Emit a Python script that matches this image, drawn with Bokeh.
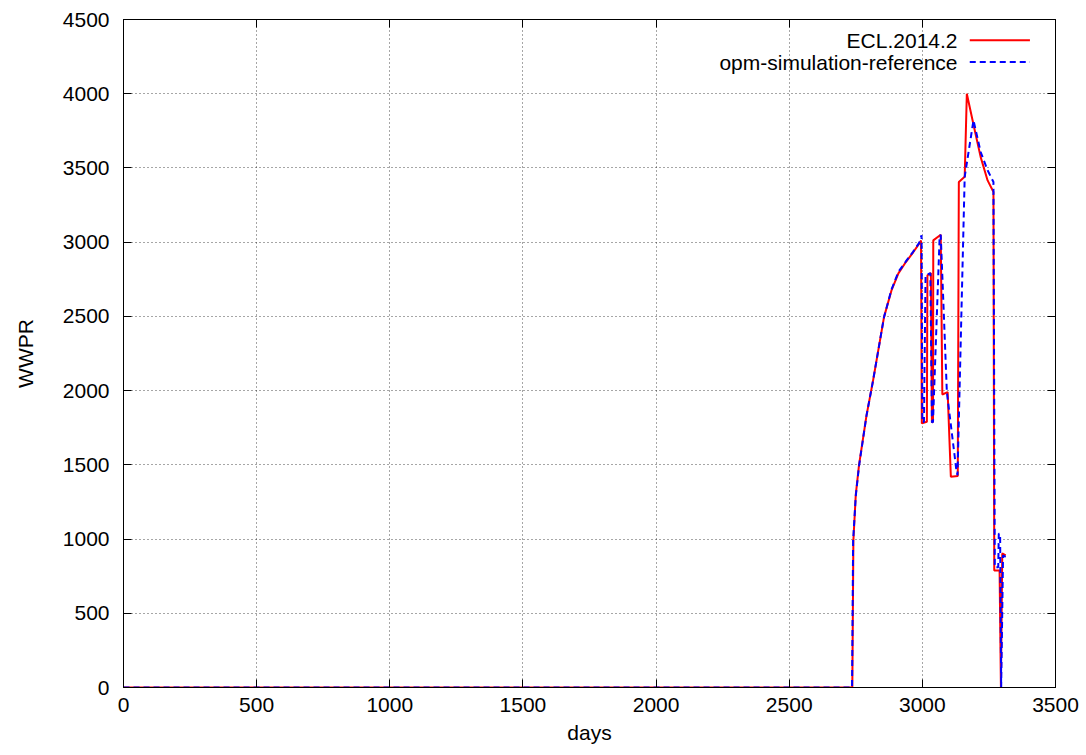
from bokeh.plotting import figure
from bokeh.embed import file_html
from bokeh.resources import INLINE
from bokeh.models import (Range1d, LinearAxis, FixedTicker, Label, Arrow,
                          CustomJSTickFormatter)

# ---- data ----
ecl_days = [0, 2737, 2741, 2750, 2762, 2790, 2815, 2856, 2884, 2910, 2938, 2965,
            2988, 2995, 2998, 3017, 3019, 3032, 3036, 3040, 3041, 3069, 3075,
            3095, 3107, 3133, 3137, 3159, 3167, 3194, 3219, 3245, 3267, 3270,
            3290, 3295, 3300, 3313]
ecl_wwpr = [0, 0, 990, 1300, 1496, 1830, 2069, 2495, 2675, 2790, 2866, 2930,
            2990, 3012, 1779, 1790, 2776, 2792, 1786, 1790, 3012, 3050, 1974,
            1990, 1420, 1425, 3405, 3440, 4000, 3776, 3573, 3416, 3338, 788,
            788, 0, 903, 890]

opm_days = [0, 2736, 2740, 2750, 2762, 2790, 2815, 2856, 2884, 2910, 2938, 2965,
            2988, 2997, 3000, 3006, 3012, 3030, 3036, 3040, 3065, 3069, 3092,
            3128, 3132, 3159, 3192, 3219, 3245, 3267, 3272, 3285, 3287, 3292,
            3296, 3303, 3313]
opm_wwpr = [0, 0, 990, 1290, 1490, 1830, 2069, 2495, 2680, 2800, 2870, 2935,
            2995, 3046, 1786, 1790, 2776, 2792, 1786, 1790, 3040, 3050, 1990,
            1460, 1430, 3440, 3821, 3607, 3484, 3405, 810, 810, 1036, 1036,
            0, 890, 880]

series_names = ["ECL.2014.2", "opm-simulation-reference"]
x_ticks = [0, 500, 1000, 1500, 2000, 2500, 3000, 3500]
y_ticks = [0, 500, 1000, 1500, 2000, 2500, 3000, 3500, 4000, 4500]

FONT = "Liberation Sans"
FS = "21px"

p = figure(width=1080, height=751, output_backend="svg", toolbar_location=None,
           x_range=Range1d(0, 3500), y_range=Range1d(0, 4500),
           min_border_left=123, min_border_right=25, min_border_top=19,
           min_border_bottom=64, background_fill_color="white",
           border_fill_color="white")

p.outline_line_color = "black"
p.outline_line_width = 1

for ax, ticks in ((p.xaxis[0], x_ticks), (p.yaxis[0], y_ticks)):
    ax.ticker = FixedTicker(ticks=ticks)
    ax.minor_tick_line_color = None
    ax.major_tick_in = 8
    ax.major_tick_out = 0
    ax.major_tick_line_color = "black"
    ax.axis_line_color = "black"
    ax.major_label_text_font = FONT
    ax.major_label_text_font_size = FS
    ax.major_label_text_color = "black"
    ax.axis_label_text_font = FONT
    ax.axis_label_text_font_size = FS
    ax.axis_label_text_font_style = "normal"
    ax.axis_label_text_color = "black"

p.xaxis[0].axis_label = "days"
p.xaxis[0].major_label_standoff = 10
p.xaxis[0].axis_label_standoff = 6
p.yaxis[0].axis_label = "WWPR"
p.yaxis[0].major_label_standoff = 14
p.yaxis[0].axis_label_standoff = 23

# mirrored ticks (gnuplot style)
blank = CustomJSTickFormatter(code="return ''")
top = LinearAxis(ticker=FixedTicker(ticks=x_ticks), formatter=blank,
                 major_tick_in=8, major_tick_out=0, minor_tick_line_color=None,
                 axis_line_color="black", major_label_standoff=0)
right = LinearAxis(ticker=FixedTicker(ticks=y_ticks), formatter=blank,
                   major_tick_in=8, major_tick_out=0, minor_tick_line_color=None,
                   axis_line_color="black", major_label_standoff=0)
p.add_layout(top, "above")
p.add_layout(right, "right")

p.xgrid[0].ticker = FixedTicker(ticks=x_ticks)
p.ygrid[0].ticker = FixedTicker(ticks=y_ticks)
for g in (p.xgrid[0], p.ygrid[0]):
    g.grid_line_color = "black"
    g.grid_line_alpha = 0.7
    g.grid_line_dash = "1 3"
    g.grid_line_width = 1

p.line(ecl_days, ecl_wwpr, line_color="#ff0000", line_width=2)
p.line(opm_days, opm_wwpr, line_color="#0000ff", line_width=2, line_dash="6 4")

# legend in gnuplot style (text left of the sample line)
legend_colors = ["#ff0000", "#0000ff"]
legend_dashes = ["solid", "6 4"]
legend_y = [4360, 4213]
for name, col, dash, ly in zip(series_names, legend_colors, legend_dashes, legend_y):
    p.add_layout(Label(x=3132, y=ly, text=name, text_align="right",
                       text_baseline="middle", text_font=FONT,
                       text_font_size=FS, text_color="black"))
    p.add_layout(Arrow(x_start=3178, y_start=ly, x_end=3404, y_end=ly, end=None,
                       line_color=col, line_width=2, line_dash=dash))

open("out.html", "w").write(file_html(p, INLINE))
